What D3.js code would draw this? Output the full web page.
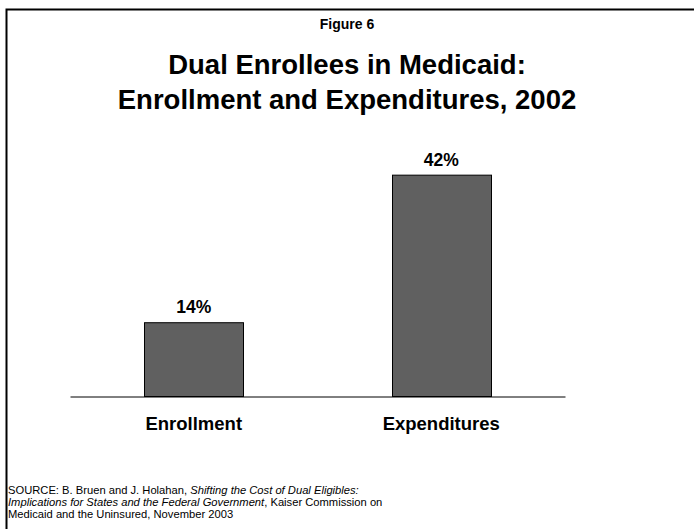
<!DOCTYPE html>
<html>
<head>
<meta charset="utf-8">
<script src="https://cdn.jsdelivr.net/npm/d3@7"></script>
<style>
  html, body { margin: 0; padding: 0; background: #fff; }
  svg { display: block; font-family: "Liberation Sans", Arial, sans-serif; }
</style>
</head>
<body>
<svg id="chart" width="694" height="529"></svg>
<script>
// Dual enrollees: share of Medicaid enrollment vs. expenditures, 2002
const categories = ["Enrollment", "Expenditures"];
const values = [14, 42];
const valueLabels = ["14%", "42%"];

const figureLabel = "Figure 6";
const titleLines = ["Dual Enrollees in Medicaid:", "Enrollment and Expenditures, 2002"];

const svg = d3.select("#chart");
const W = 694, H = 529;

// page frame (runs off the right and bottom edges)
svg.append("rect")
  .attr("x", 6.5).attr("y", 9.5)
  .attr("width", W + 20).attr("height", H + 20)
  .attr("fill", "none").attr("stroke", "#000").attr("stroke-width", 2);

svg.append("text")
  .attr("x", 347).attr("y", 29)
  .attr("text-anchor", "middle")
  .attr("font-size", 14).attr("font-weight", "bold")
  .text(figureLabel);

svg.append("g").selectAll("text")
  .data(titleLines)
  .join("text")
  .attr("x", 347)
  .attr("y", (d, i) => 74 + i * 35)
  .attr("text-anchor", "middle")
  .attr("font-size", 27.5).attr("font-weight", "bold")
  .text(d => d);

// plot area
const x = d3.scaleBand()
  .domain(categories)
  .range([70, 565])
  .paddingInner(0.6)
  .paddingOuter(0.3);

const y = d3.scaleLinear()
  .domain([0, 50])
  .range([396, 132.5]);

const bars = svg.append("g");
bars.selectAll("rect")
  .data(values)
  .join("rect")
  .attr("x", (d, i) => Math.round(x(categories[i])) + 0.5)
  .attr("y", d => y(d) + 0.5)
  .attr("width", Math.round(x.bandwidth()))
  .attr("height", d => y(0) - y(d))
  .attr("fill", "#606060")
  .attr("stroke", "#000")
  .attr("stroke-width", 1);

bars.selectAll("text")
  .data(values)
  .join("text")
  .attr("x", (d, i) => x(categories[i]) + x.bandwidth() / 2)
  .attr("y", d => y(d) - 9)
  .attr("text-anchor", "middle")
  .attr("font-size", 17.5).attr("font-weight", "bold")
  .text((d, i) => valueLabels[i]);

// baseline axis with category labels
const axis = d3.axisBottom(x).tickSize(0).tickPadding(20);
const gx = svg.append("g")
  .attr("transform", "translate(0,396.5)")
  .call(axis);
gx.select(".domain").attr("stroke", "#000").attr("stroke-width", 1);
gx.selectAll(".tick text")
  .attr("font-family", "\"Liberation Sans\", Arial, sans-serif")
  .attr("font-size", 18.5).attr("font-weight", "bold")
  .attr("fill", "#000");

// source note
const note = svg.append("text")
  .attr("x", 8).attr("y", 494)
  .attr("font-size", 11.2)
  .attr("fill", "#000");
const line1 = note.append("tspan").attr("x", 8);
line1.append("tspan").text("SOURCE: B. Bruen and J. Holahan, ");
line1.append("tspan").attr("font-style", "italic").text("Shifting the Cost of Dual Eligibles:");
const line2 = note.append("tspan").attr("x", 8).attr("dy", 12);
line2.append("tspan").attr("font-style", "italic").text("Implications for States and the Federal Government");
line2.append("tspan").text(", Kaiser Commission on");
note.append("tspan").attr("x", 8).attr("dy", 12)
  .text("Medicaid and the Uninsured, November 2003");
</script>
</body>
</html>
